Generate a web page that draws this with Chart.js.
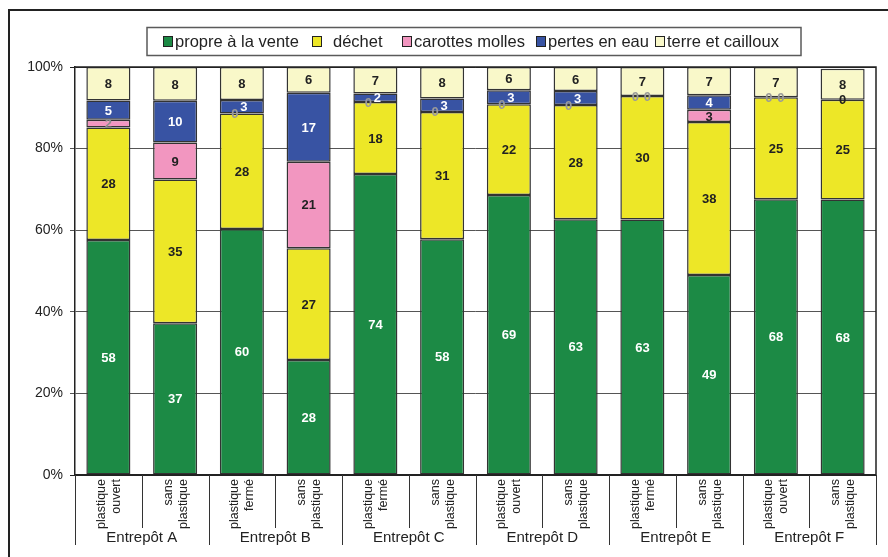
<!DOCTYPE html>
<html>
<head>
<meta charset="utf-8">
<title>Entrepôts</title>
<script src="https://cdn.jsdelivr.net/npm/chart.js@4/dist/chart.umd.min.js"></script>
<style>
	html, body { margin: 0; padding: 0; background: #fff; }
	#wrap { width: 888px; height: 557px; }
</style>
</head>
<body>
<div id="wrap">
	<canvas id="myChartBar" width="888" height="557"></canvas>
</div>

<script>
// pourcentages par lot (arrondis a l'unite dans les etiquettes)
var sousLots = [
	['plastique', 'ouvert'], ['sans', 'plastique'],
	['plastique', 'fermé'], ['sans', 'plastique'],
	['plastique', 'fermé'], ['sans', 'plastique'],
	['plastique', 'ouvert'], ['sans', 'plastique'],
	['plastique', 'fermé'], ['sans', 'plastique'],
	['plastique', 'ouvert'], ['sans', 'plastique']
];
var entrepots = ['Entrepôt A', 'Entrepôt B', 'Entrepôt C', 'Entrepôt D', 'Entrepôt E', 'Entrepôt F'];

var propre = [57.6, 37.2, 60.3, 28.2, 73.8, 57.8, 68.6, 62.7, 62.6, 49.0, 67.6, 67.5];
var dechet = [27.6, 35.2, 28.3, 27.4, 17.6, 31.2, 22.3, 28.0, 30.3, 37.5, 25.0, 24.5];
var molles = [1.9, 9.1, 0, 21.2, 0, 0, 0, 0, 0, 3.0, 0, null];
var eau    = [4.7, 10.2, 3.3, 16.9, 2.1, 3.3, 3.4, 3.4, 0, 3.6, 0, 0];
var terre  = [8.2, 8.3, 8.1, 6.3, 6.5, 7.7, 5.7, 5.9, 7.1, 6.9, 7.4, 7.6];

var yTicks = [0, 20, 40, 60, 80, 100];

var series = ['propre à la vente', 'déchet', 'carottes molles', 'pertes en eau', 'terre et cailloux'];
var couleurs = ['#1c8a45', '#ede727', '#f296c0', '#3853a3', '#f9f8c9'];
var couleursTexte = ['#fff', '#222', '#222', '#fff', '#222'];

var FONT = '"Liberation Sans", Arial, Helvetica, sans-serif';

var valeurs = [propre, dechet, molles, eau, terre];
var datasets = [];
for (var i = 0; i < series.length; i++) {
	datasets.push({
		label: series[i],
		data: valeurs[i],
		backgroundColor: couleurs[i],
		borderColor: '#333',
		borderWidth: 1.5,
		borderSkipped: false,
		categoryPercentage: 1,
		barPercentage: 0.66
	});
}

// etiquettes de valeur au milieu de chaque segment
var etiquettes = {
	id: 'etiquettes',
	afterDatasetsDraw: function (chart) {
		var ctx = chart.ctx;
		ctx.save();
		ctx.font = 'bold 13px ' + FONT;
		ctx.textAlign = 'center';
		ctx.textBaseline = 'middle';
		for (var d = 0; d < chart.data.datasets.length; d++) {
			var meta = chart.getDatasetMeta(d);
			var data = chart.data.datasets[d].data;
			for (var j = 0; j < data.length; j++) {
				var v = data[j];
				if (v === null) continue;
				var bar = meta.data[j];
				var x = bar.x;
				var y = (bar.y + bar.base) / 2;
				var txt = String(Math.round(v));
				var col = couleursTexte[d];
				if (v === 0) {
					col = '#9a9a9a';
					if (d === 2) {
						x -= 7;
					} else if (d === 3) {
						if (molles[j] === null) { col = '#222'; } else { x += 5; }
					}
				} else if (d === 2 && v < 2.5) {
					col = '#8c8c8c';
				} else if (d === 3 && molles[j] === 0 && v < 5) {
					x += 2;
				}
				ctx.fillStyle = col;
				ctx.fillText(txt, x, y + 1);
			}
		}
		ctx.restore();
	}
};

// cadre, legende, axe des categories
var decor = {
	id: 'decor',
	afterDraw: function (chart) {
		var ctx = chart.ctx;
		var area = chart.chartArea;
		var xs = chart.scales.x;
		ctx.save();

		// cadre exterieur
		ctx.strokeStyle = '#222';
		ctx.lineWidth = 2;
		ctx.beginPath();
		ctx.moveTo(9, 557);
		ctx.lineTo(9, 10);
		ctx.lineTo(888, 10);
		ctx.stroke();

		// bord haut et droit de la zone de trace
		ctx.lineWidth = 1.5;
		ctx.beginPath();
		ctx.moveTo(area.left, area.top);
		ctx.lineTo(area.right, area.top);
		ctx.lineTo(area.right, area.bottom);
		ctx.stroke();

		// axe horizontal
		ctx.lineWidth = 2;
		ctx.beginPath();
		ctx.moveTo(area.left, area.bottom);
		ctx.lineTo(area.right, area.bottom);
		ctx.stroke();

		// separateurs sous l'axe
		var pas = (area.right - area.left) / sousLots.length;
		ctx.lineWidth = 1;
		ctx.strokeStyle = '#333';
		for (var k = 0; k <= sousLots.length; k++) {
			var sx = Math.round(area.left + k * pas) + 0.5;
			ctx.beginPath();
			ctx.moveTo(sx, area.bottom);
			ctx.lineTo(sx, k % 2 === 0 ? 545 : 528);
			ctx.stroke();
		}

		// libelles verticaux des lots
		ctx.fillStyle = '#222';
		ctx.font = '12.5px ' + FONT;
		ctx.textAlign = 'right';
		ctx.textBaseline = 'middle';
		for (var j = 0; j < sousLots.length; j++) {
			var cx = xs.getPixelForValue(j) + 0.5;
			ctx.save();
			ctx.translate(cx, area.bottom + 4);
			ctx.rotate(-Math.PI / 2);
			ctx.fillText(sousLots[j][0], 0, -7.5);
			ctx.fillText(sousLots[j][1], 0, 7.5);
			ctx.restore();
		}

		// entrepots
		ctx.font = '15px ' + FONT;
		ctx.textAlign = 'center';
		for (var g = 0; g < entrepots.length; g++) {
			var gx = (xs.getPixelForValue(2 * g) + xs.getPixelForValue(2 * g + 1)) / 2;
			ctx.fillText(entrepots[g], gx, 538);
		}

		// legende
		ctx.strokeStyle = '#5a5a5a';
		ctx.lineWidth = 1.5;
		ctx.strokeRect(147, 27.5, 654, 28);
		var carres = [163, 312, 402, 536, 655];
		ctx.font = '16.5px ' + FONT;
		ctx.textAlign = 'left';
		for (var s = 0; s < series.length; s++) {
			ctx.fillStyle = couleurs[s];
			ctx.fillRect(carres[s], 36.5, 9, 10);
			ctx.strokeStyle = '#222';
			ctx.lineWidth = 1;
			ctx.strokeRect(carres[s] + 0.5, 36.5, 9, 10);
			ctx.fillStyle = '#222';
			ctx.fillText(series[s], carres[s] + (s === 1 ? 21 : 12), 42);
		}
		ctx.restore();
	}
};

var ctx_bar = document.getElementById('myChartBar').getContext('2d');
var myBarChart = new Chart(ctx_bar, {
	type: 'bar',
	data: {
		labels: sousLots.map(function (l) { return l.join(' '); }),
		datasets: datasets
	},
	options: {
		responsive: false,
		animation: false,
		layout: { padding: { top: 67, right: 12, bottom: 82, left: 0 } },
		plugins: {
			legend: { display: false },
			tooltip: { enabled: false }
		},
		scales: {
			x: {
				display: false,
				stacked: true,
				offset: true,
				grid: { display: false }
			},
			y: {
				stacked: true,
				min: 0,
				max: 100,
				afterFit: function (scale) { scale.width = 75; },
				afterBuildTicks: function (scale) {
					scale.ticks = yTicks.map(function (v) { return { value: v }; });
				},
				ticks: {
					padding: 7,
					color: '#222',
					font: { family: FONT, size: 14 },
					callback: function (v) { return v + '%'; }
				},
				grid: {
					color: function (c) { return (c.tick && (c.tick.value === 0 || c.tick.value === 100)) ? '#222' : '#555'; },
					lineWidth: 1,
					tickLength: 5
				},
				border: { color: '#222', width: 1.5 }
			}
		}
	},
	plugins: [etiquettes, decor]
});
</script>
</body>
</html>
